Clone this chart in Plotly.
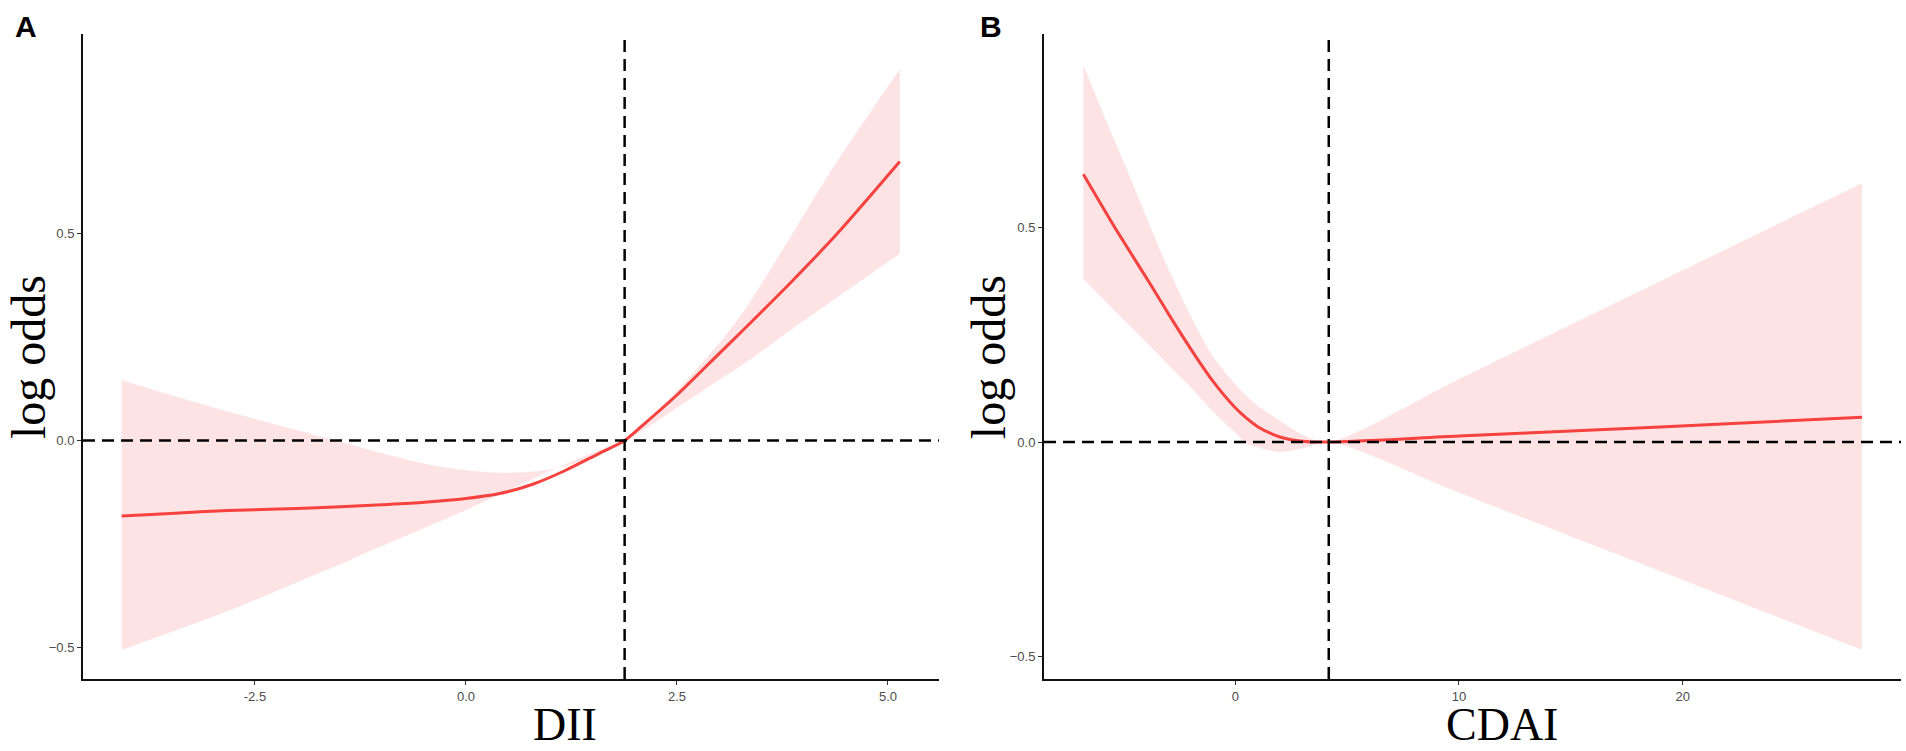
import plotly.graph_objects as go

# panel A: DII
dii_x = [-4.08, -3.5, -2.82, -2.0, -1.49, -1.0, -0.49, 0.0, 0.4, 0.8, 1.17, 1.57, 1.88,
         2.1, 2.5, 3.0, 3.3, 3.84, 4.4, 5.14]
dii_fit = [-0.182, -0.176, -0.169, -0.164, -0.160, -0.155, -0.149, -0.140, -0.128, -0.105,
           -0.073, -0.032, 0.0, 0.038, 0.11, 0.21, 0.27, 0.38, 0.50, 0.674]
dii_upper = [0.146, 0.11, 0.07, 0.025, -0.003, -0.03, -0.056, -0.072, -0.078, -0.075,
             -0.062, -0.033, 0.0, 0.042, 0.12, 0.235, 0.315, 0.49, 0.675, 0.897]
dii_lower = [-0.506, -0.463, -0.412, -0.342, -0.299, -0.255, -0.211, -0.168, -0.129, -0.092,
             -0.058, -0.024, 0.0, 0.025, 0.079, 0.146, 0.186, 0.266, 0.346, 0.451]
dii_ref = 1.88

# panel B: CDAI
cdai_x = [-6.79, -5.5, -5.0, -4.0, -3.5, -3.0, -2.0, -1.0, 0.0, 0.5, 1.0, 2.0, 3.0, 4.18,
          10.0, 16.0, 22.0, 28.02]
cdai_fit = [0.624, 0.51, 0.468, 0.385, 0.343, 0.30, 0.218, 0.142, 0.08, 0.056, 0.036, 0.012,
            0.002, 0.0, 0.014, 0.028, 0.043, 0.058]
cdai_upper = [0.879, 0.715, 0.655, 0.528, 0.465, 0.405, 0.295, 0.20, 0.135, 0.108, 0.085,
              0.050, 0.018, 0.0, 0.147, 0.299, 0.451, 0.603]
cdai_lower = [0.38, 0.312, 0.286, 0.234, 0.207, 0.180, 0.128, 0.072, 0.022, -0.003, -0.012,
              -0.023, -0.015, 0.0, -0.118, -0.240, -0.362, -0.484]
cdai_ref = 4.18

line_col = "#F5423F"
band_col = "#FDE3E4"

fig = go.Figure()

panels = [
    (dii_x, dii_fit, dii_upper, dii_lower, "x", "y"),
    (cdai_x, cdai_fit, cdai_upper, cdai_lower, "x2", "y2"),
]
for xs, fit, up, lo, xa, ya in panels:
    fig.add_trace(go.Scatter(x=xs, y=lo, mode="lines",
                             line=dict(width=0, shape="spline", smoothing=0.8),
                             xaxis=xa, yaxis=ya, showlegend=False, hoverinfo="skip"))
    fig.add_trace(go.Scatter(x=xs, y=up, mode="lines",
                             line=dict(width=0, shape="spline", smoothing=0.8),
                             fill="tonexty", fillcolor=band_col,
                             xaxis=xa, yaxis=ya, showlegend=False, hoverinfo="skip"))
    fig.add_trace(go.Scatter(x=xs, y=fit, mode="lines",
                             line=dict(color=line_col, width=3, shape="spline", smoothing=0.8),
                             xaxis=xa, yaxis=ya, showlegend=False))

# dashed reference lines
dash = "12px,7px"
for xa, ya, ref in [("x", "y", dii_ref), ("x2", "y2", cdai_ref)]:
    fig.add_shape(type="line", xref=xa + " domain", yref=ya, x0=0, x1=1, y0=0, y1=0,
                  line=dict(color="black", width=2.5, dash=dash), layer="above")
    fig.add_shape(type="line", xref=xa, yref=ya + " domain", x0=ref, x1=ref, y0=0, y1=1,
                  line=dict(color="black", width=2.5, dash=dash), layer="above")

axis_common = dict(showline=True, linecolor="#111111", linewidth=2, showgrid=False,
                   zeroline=False, ticks="outside", ticklen=4, tickcolor="#333333",
                   tickwidth=1.2,
                   tickfont=dict(family="Liberation Sans", size=13, color="#4D4D4D"))

fig.update_layout(
    width=1906, height=751,
    margin=dict(l=83, r=5, t=34, b=72),
    paper_bgcolor="white", plot_bgcolor="white",
    xaxis=dict(domain=[0, 0.4708], range=[-4.538, 5.604], anchor="y",
               tickvals=[-2.5, 0, 2.5, 5], ticktext=["-2.5", "0.0", "2.5", "5.0"], **axis_common),
    yaxis=dict(range=[-0.576, 0.982], anchor="x",
               tickvals=[-0.5, 0, 0.5], ticktext=["\u22120.5", "0.0", "0.5"], **axis_common),
    xaxis2=dict(domain=[0.5286, 1], range=[-8.55, 29.76], anchor="y2",
                tickvals=[0, 10, 20], ticktext=["0", "10", "20"], **axis_common),
    yaxis2=dict(range=[-0.552, 0.951], anchor="x2",
                tickvals=[-0.5, 0, 0.5], ticktext=["\u22120.5", "0.0", "0.5"], **axis_common),
)

serif = dict(family="Liberation Serif", size=46, color="black")
ylab = dict(family="Liberation Serif", size=48, color="black")
bold = dict(family="Liberation Sans", size=30, color="black")
annos = [
    dict(text="DII", x=0.2651, y=-0.070, xanchor="center", yanchor="middle", font=serif,
         borderpad=0),
    dict(text="CDAI", x=0.7805, y=-0.070, xanchor="center", yanchor="middle", font=serif,
         borderpad=0),
    dict(text="log odds", x=-0.0303, y=0.499, textangle=-90, xanchor="center",
         yanchor="middle", font=ylab),
    dict(text="log odds", x=0.4978, y=0.499, textangle=-90, xanchor="center",
         yanchor="middle", font=ylab),
    dict(text="<b>A</b>", x=-0.0385, y=1.040, xanchor="left", yanchor="top", font=bold),
    dict(text="<b>B</b>", x=0.4923, y=1.040, xanchor="left", yanchor="top", font=bold),
]
for a in annos:
    fig.add_annotation(xref="paper", yref="paper", showarrow=False, **a)

fig.write_html("out.html", config={"displayModeBar": False},
               post_script="document.body.style.margin='0';"
                           "document.body.style.overflow='hidden';")
